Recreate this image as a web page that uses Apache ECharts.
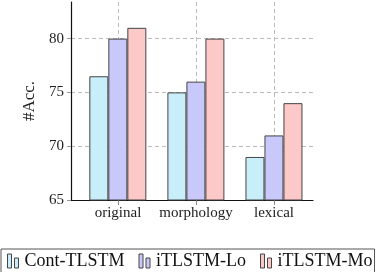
<!DOCTYPE html>
<html>
<head>
<meta charset="utf-8">
<script src="https://cdn.jsdelivr.net/npm/echarts@6/dist/echarts.min.js"></script>
<style>
html,body{margin:0;padding:0;background:#fff;}
#c{width:383px;height:272px;}
</style>
</head>
<body>
<div id="c"></div>
<script>
const categories = ['original', 'morphology', 'lexical'];
const seriesNames = ['Cont-TLSTM', 'iTLSTM-Lo', 'iTLSTM-Mo'];
const contTLSTM = [76.5, 75, 69];
const iTLSTMLo = [80, 76, 71];
const iTLSTMMo = [81, 80, 74];
const yTicks = [65, 70, 75, 80];

const fills = ['#c8eef9', '#c8c8fa', '#fcc8c8'];
const values = [contTLSTM, iTLSTMLo, iTLSTMMo];
const catPos = categories.map((c, i) => i);
const font = 'Liberation Serif';
const yMin = 65, yMax = 83.4;
const gridLine = {color: '#bbb', type: [4, 3], width: 1};

const chart = echarts.init(document.getElementById('c'), null, {renderer: 'canvas'});
chart.setOption({
  animation: false,
  backgroundColor: '#fff',
  grid: [
    {left: 71, right: 70, top: 2, bottom: 72},
    {left: 118, right: 109, top: 2, bottom: 72}
  ],
  legend: {
    left: 1, top: 249,
    padding: [3, 2, 6, 6],
    borderColor: '#555', borderWidth: 1,
    itemWidth: 11, itemHeight: 15, itemGap: 14,
    icon: 'path://M0,0H4V14H0Z M7,4H11V14H7Z',
    itemStyle: {borderWidth: 1, borderColor: '#444'},
    textStyle: {fontFamily: font, fontSize: 18, color: '#111', padding: [0, 0, 0, 1]},
    data: seriesNames
  },
  xAxis: [
    {
      gridIndex: 0, type: 'value', min: -0.6, max: 2.5,
      axisLine: {show: true, onZero: false, lineStyle: {color: '#111', width: 1.2}},
      axisTick: {show: false}, axisLabel: {show: false}, splitLine: {show: false}
    },
    {
      gridIndex: 1, type: 'category', data: categories, boundaryGap: false,
      axisLine: {show: false},
      axisTick: {show: true, interval: 0, length: 5, lineStyle: {color: '#888'}},
      axisLabel: {interval: 0, fontFamily: font, fontSize: 15, color: '#222', margin: 6},
      splitLine: {show: true, interval: 0, lineStyle: gridLine}
    }
  ],
  yAxis: [
    {
      gridIndex: 0, type: 'value', min: yMin, max: yMax, interval: 5,
      name: '#Acc.', nameLocation: 'middle', nameGap: 31, nameRotate: 90,
      nameTextStyle: {fontFamily: font, fontSize: 17, color: '#222'},
      axisLine: {show: true, onZero: false, lineStyle: {color: '#111', width: 1.2}},
      axisTick: {show: true, length: 4, lineStyle: {color: '#999'}},
      axisLabel: {fontFamily: font, fontSize: 15, color: '#222', margin: 7,
        showMaxLabel: false, formatter: v => (yTicks.indexOf(v) >= 0 ? String(v) : '')},
      splitLine: {show: true, showMinLine: false, showMaxLine: false, lineStyle: gridLine}
    },
    {
      gridIndex: 1, type: 'value', min: yMin, max: yMax, show: false,
      splitLine: {show: false}
    }
  ],
  series: seriesNames.map((name, k) => ({
    name: name, type: 'bar', xAxisIndex: 0, yAxisIndex: 0,
    barWidth: 19, barGap: '0%',
    itemStyle: {color: fills[k], borderColor: '#444', borderWidth: 1},
    data: catPos.map((x, i) => [x, values[k][i]])
  }))
});
</script>
</body>
</html>
